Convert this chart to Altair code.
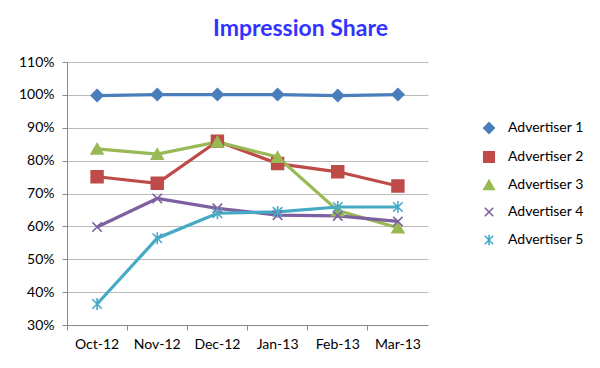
import altair as alt
import pandas as pd

months = ["Oct-12", "Nov-12", "Dec-12", "Jan-13", "Feb-13", "Mar-13"]
series = ["Advertiser 1", "Advertiser 2", "Advertiser 3", "Advertiser 4", "Advertiser 5"]
adv1 = [0.998, 1.001, 1.001, 1.001, 0.998, 1.001]
adv2 = [0.751, 0.731, 0.859, 0.791, 0.766, 0.723]
adv3 = [0.836, 0.820, 0.857, 0.811, 0.648, 0.596]
adv4 = [0.598, 0.685, 0.655, 0.634, 0.632, 0.615]
adv5 = [0.364, 0.564, 0.640, 0.644, 0.659, 0.659]
colors = ["#4A7EBB", "#BE4B48", "#98B954", "#7D60A0", "#46AAC5"]
shapes = [
    "diamond",
    "square",
    "triangle-up",
    "M-0.8,-0.8L0.8,0.8M-0.8,0.8L0.8,-0.8",
    "M-0.8,-0.8L0.8,0.8M-0.8,0.8L0.8,-0.8M0,-1L0,1",
]

rows = []
for name, vals in zip(series, [adv1, adv2, adv3, adv4, adv5]):
    for m, v in zip(months, vals):
        rows.append({"month": m, "series": name, "value": v})
df = pd.DataFrame(rows)

FONT = "Lato"

x = alt.X(
    "month:O",
    sort=months,
    scale=alt.Scale(type="band", paddingInner=0, paddingOuter=0),
    axis=alt.Axis(
        title=None, labelAngle=0, bandPosition=0, grid=False,
        tickSize=5, labelPadding=7, labelFontSize=14, labelColor="#000000",
        domainColor="#888888", tickColor="#888888", labelFont=FONT,
    ),
)
y = alt.Y(
    "value:Q",
    scale=alt.Scale(domain=[0.3, 1.1], nice=False, zero=False),
    axis=alt.Axis(
        title=None, format=".0%", values=[0.3, 0.4, 0.5, 0.6, 0.7, 0.8, 0.9, 1.0, 1.1],
        tickSize=5, labelPadding=8, labelFontSize=14, labelColor="#000000",
        domainColor="#888888", tickColor="#888888", gridColor="#BBBBBB",
        labelFont=FONT,
    ),
)
cscale = alt.Scale(domain=series, range=colors)
leg = alt.Legend(
    title=None, orient="none", legendX=415, legendY=59, labelFontSize=14,
    labelFont=FONT, labelColor="#000000", rowPadding=11,
    symbolSize=110, labelOffset=12, symbolStrokeWidth=1.6,
)

base = alt.Chart(df)
lines = base.mark_line(strokeWidth=3.2).encode(
    x=x, y=y,
    stroke=alt.Stroke("series:N", scale=cscale, legend=leg),
)
points = base.mark_point(filled=True, size=140, strokeWidth=1.6, opacity=1).encode(
    x=x, y=y,
    fill=alt.Fill("series:N", scale=cscale, legend=leg),
    stroke=alt.Stroke("series:N", scale=cscale, legend=leg),
    shape=alt.Shape("series:N", scale=alt.Scale(domain=series, range=shapes),
                    legend=leg),
)

chart = (
    alt.layer(lines, points)
    .properties(
        width=361, height=263,
        autosize=alt.AutoSizeParams(type="none"),
        padding={"left": 59, "top": 54, "right": 164, "bottom": 35},
        title=alt.TitleParams(
            "Impression Share", anchor="middle", dx=53, offset=14,
            fontSize=23, font=FONT, fontWeight="bold", color="#3333FF",
        ),
    )
    .configure_view(stroke=None)
)

chart.save("out.html", embed_options={"renderer": "svg", "actions": False})
